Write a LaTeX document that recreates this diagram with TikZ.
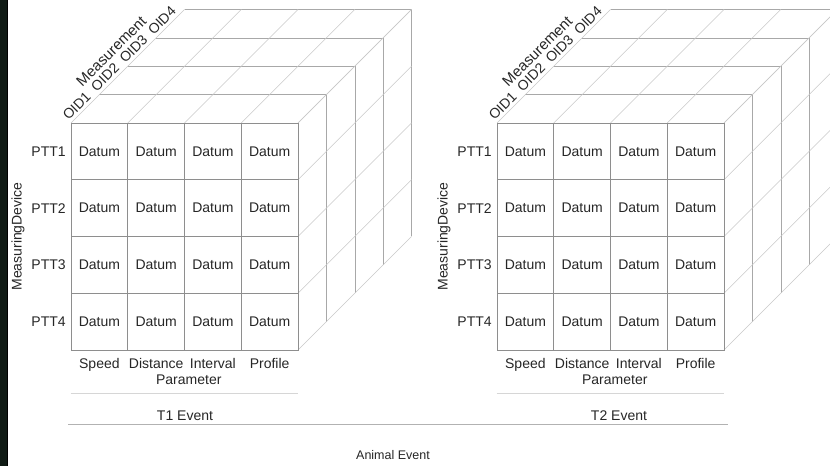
\documentclass[tikz,border=0pt]{standalone}
\usepackage{fontspec}
\setmainfont{Liberation Sans}
\usetikzlibrary{calc,positioning}
\definecolor{gridGray}{HTML}{8E8E8E}
\definecolor{edgeGray}{HTML}{A8A8A8}
\definecolor{diagGray}{HTML}{C8C8C8}
\definecolor{ruleGray}{HTML}{D6D6D6}
\definecolor{eventGray}{HTML}{B2B2B2}
\definecolor{textDark}{HTML}{262626}
\definecolor{bgDark}{HTML}{101B15}
\tikzset{
  every node/.style={font=\fontsize{14}{16}\selectfont, text=textDark},
  cell/.style={draw=gridGray, line width=0.6pt, minimum size=56.75pt, inner sep=0pt},
  layeredge/.style={draw=edgeGray, line width=0.6pt},
  depthline/.style={draw=diagGray, line width=0.5pt},
  parrule/.style={draw=ruleGray, line width=1.4pt},
  eventrule/.style={draw=eventGray, line width=0.6pt},
  oidtag/.style={rotate=45, inner sep=0pt},
  basetag/.style={anchor=base, inner sep=0pt},
}

\begin{document}
\begin{tikzpicture}[x=1pt,y=-1pt]
  \useasboundingbox (0,0) rectangle (830,466);
  \clip (0,0) rectangle (830,466);
  % dark strip on the left edge
  \fill[bgDark] (0,0) rectangle (7,466);
  \draw[black, line width=1pt] (7.5,0) -- (7.5,466);

  \foreach \cx/\ev/\evx in {71/T1/185,497/T2/619} {
    % layers behind the front face
    \foreach \k in {1,...,4} {
      \draw[layeredge] (\cx+28.4*\k,123-28.4*\k) -- ++(227,0) -- ++(0,227);
    }
    % depth lines on top and right faces
    \foreach \i in {0,...,4} {
      \draw[depthline] (\cx+56.75*\i,123) -- ++(113.6,-113.6);
      \draw[depthline] (\cx+227,123+56.75*\i) -- ++(113.6,-113.6);
    }
    % front face
    \foreach \r in {1,...,4} {
      \foreach \c in {1,...,4} {
        \node[cell] (\ev-\r-\c) at (\cx+56.75*\c-28.375,123+56.75*\r-28.375) {Datum};
      }
      \node[left=1.5pt of \ev-\r-1] (\ev-ptt\r) {PTT\r};
    }
    \node[rotate=90] (\ev-dev) at (\cx-53,236.5) {MeasuringDevice};
    \foreach \c/\pname in {1/Speed,2/Distance,3/Interval,4/Profile} {
      \node[basetag] (\ev-par\c) at ($(\ev-4-\c.south)+(0,18)$) {\pname};
    }
    \node[basetag] (\ev-param) at ($(\ev-4-2.south east)+(4,34.5)$) {Parameter};
    \draw[parrule] ($(\ev-4-1.south west)+(0,43)$) -- ($(\ev-4-4.south east)+(0,43)$);
    % measurement axis
    \foreach \k in {1,...,4} {
      \node[oidtag] (\ev-oid\k) at (\cx+28.4*\k-14.2-8.5,123-28.4*\k+14.2-3) {OID\k};
    }
    \node[oidtag, font=\fontsize{15}{17}\selectfont] (\ev-meas) at (\cx+56.8-16.5,123-56.8-15) {Measurement};
    \node[basetag] (\ev-event) at (\evx,420) {\ev{} Event};
  }

  \draw[eventrule] (68,424) -- (728,424);
  \node[basetag, font=\fontsize{12.5}{15}\selectfont] (animal) at (393,459.5) {Animal Event};
\end{tikzpicture}
\end{document}
